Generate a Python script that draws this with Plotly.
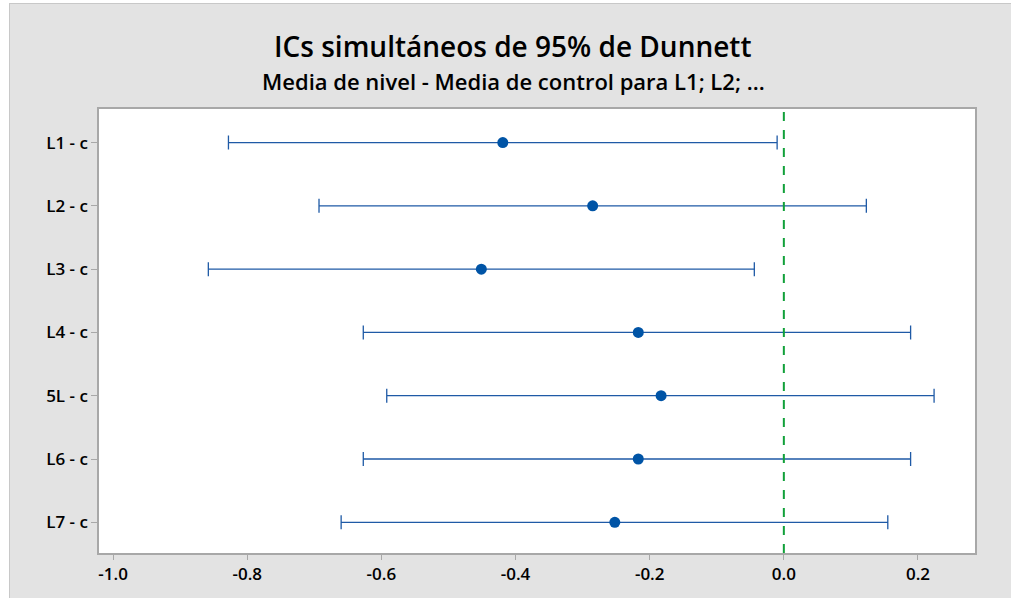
import plotly.graph_objects as go

categories = ["L1 - c", "L2 - c", "L3 - c", "L4 - c", "5L - c", "L6 - c", "L7 - c"]
centers = [-0.419, -0.285, -0.451, -0.217, -0.183, -0.217, -0.252]
lowers = [-0.828, -0.693, -0.858, -0.627, -0.592, -0.627, -0.660]
uppers = [-0.010, 0.123, -0.044, 0.189, 0.224, 0.189, 0.155]
x_ticks = [-1.0, -0.8, -0.6, -0.4, -0.2, 0.0, 0.2]
x_ticklabels = ["-1.0", "-0.8", "-0.6", "-0.4", "-0.2", "0.0", "0.2"]

W, H = 1011, 598
ML, MR, MT, MB = 99, 36, 109, 45
FONT = "Open Sans"
GRAY = "#e3e3e3"

fig = go.Figure()
fig.add_trace(go.Scatter(
    x=centers, y=categories, mode="markers",
    marker=dict(color="#0054a6", size=11),
    error_x=dict(type="data", symmetric=False,
                 array=[u - c for u, c in zip(uppers, centers)],
                 arrayminus=[c - l for l, c in zip(lowers, centers)],
                 color="#1f5aa6", thickness=1.3, width=7),
    showlegend=False, hoverinfo="skip",
))

# zero reference line
fig.add_shape(type="line", xref="x", yref="paper", x0=0, x1=0, y0=0, y1=1,
              line=dict(color="#11a03a", width=2, dash="dash"), layer="above")

pw = W - ML - MR
ph = H - MT - MB
# white strips left / top of the gray frame
fig.add_shape(type="rect", xref="paper", yref="paper",
              x0=(0 - ML) / pw, x1=(9 - ML) / pw,
              y0=(H - MB - H) / ph, y1=(H - MB - 0) / ph,
              fillcolor="white", line=dict(width=0), layer="below")
fig.add_shape(type="rect", xref="paper", yref="paper",
              x0=(0 - ML) / pw, x1=(W - ML) / pw,
              y0=(H - MB - 3) / ph, y1=(H - MB - 0) / ph,
              fillcolor="white", line=dict(width=0), layer="below")
# frame border lines
fig.add_shape(type="line", xref="paper", yref="paper",
              x0=(9.5 - ML) / pw, x1=(9.5 - ML) / pw,
              y0=(H - MB - H) / ph, y1=(H - MB - 3) / ph,
              line=dict(color="#c8c8c8", width=1))
fig.add_shape(type="line", xref="paper", yref="paper",
              x0=(9 - ML) / pw, x1=(W - ML) / pw,
              y0=(H - MB - 3.5) / ph, y1=(H - MB - 3.5) / ph,
              line=dict(color="#c8c8c8", width=1))

fig.add_annotation(text="ICs simultáneos de 95% de Dunnett",
                   xref="paper", yref="paper", x=(513 - ML) / pw, y=(H - MB - 46) / ph,
                   showarrow=False, xanchor="center", yanchor="middle",
                   font=dict(family=FONT, size=28, color="black", weight=600))
fig.add_annotation(text="Media de nivel - Media de control para L1; L2; ...",
                   xref="paper", yref="paper", x=(513 - ML) / pw, y=(H - MB - 81) / ph,
                   showarrow=False, xanchor="center", yanchor="middle",
                   font=dict(family=FONT, size=22, color="black", weight=600))

fig.update_layout(
    width=W, height=H,
    margin=dict(l=ML, r=MR, t=MT, b=MB),
    paper_bgcolor=GRAY, plot_bgcolor="white",
    font=dict(family=FONT, color="black"),
    xaxis=dict(range=[-1.021, 0.285], tickvals=x_ticks, ticktext=x_ticklabels,
               showgrid=False, zeroline=False, ticks="outside", ticklen=5,
               tickcolor="#a8a8a8", showline=True, linecolor="#a8a8a8", linewidth=1.5,
               mirror=True, tickfont=dict(family=FONT, size=17, color="black", weight=600)),
    yaxis=dict(type="category", categoryorder="array", categoryarray=categories,
               range=[6.485, -0.53], showgrid=False, zeroline=False,
               ticks="outside", ticklen=6, tickcolor="#a8a8a8",
               showline=True, linecolor="#a8a8a8", linewidth=1.5, mirror=True,
               tickfont=dict(family=FONT, size=17, color="black", weight=600)),
)

fig.write_html("out.html", config={"displayModeBar": False},
               post_script="document.body.style.margin='0';document.body.style.overflow='hidden';")
